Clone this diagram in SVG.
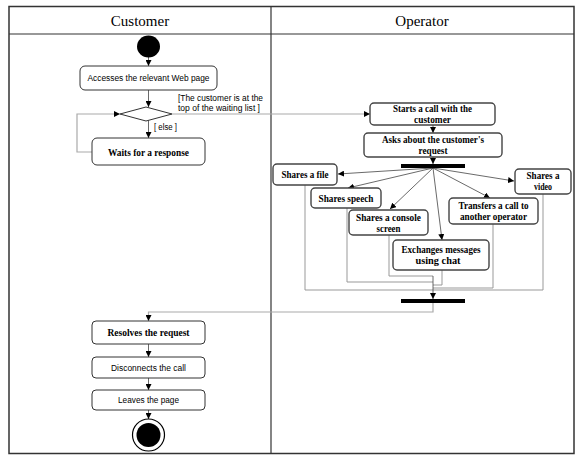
<svg xmlns="http://www.w3.org/2000/svg" width="579" height="459" viewBox="0 0 579 459">
<defs>
<style>
.frame{fill:none;stroke:#333;stroke-width:1.5}
.box{fill:#fff;stroke:#333;stroke-width:1}
.obox{fill:#fff;stroke:#444;stroke-width:1.4}
.bt{font-family:"Liberation Serif",serif;font-weight:bold;font-size:11px;fill:#000;text-anchor:middle}
.st{font-family:"Liberation Sans",sans-serif;font-size:8.5px;fill:#000;text-anchor:middle}
.gt{font-family:"Liberation Sans",sans-serif;font-size:8.5px;fill:#000}
.hd{font-family:"Liberation Serif",serif;font-size:15px;fill:#000;text-anchor:middle}
.dk{fill:none;stroke:#444;stroke-width:0.8}
.gr{fill:none;stroke:#aaa;stroke-width:1.2}
.gj{fill:none;stroke:#999;stroke-width:1}
</style>
<marker id="ah" viewBox="0 0 8 8" refX="8" refY="4" markerWidth="6" markerHeight="6" markerUnits="userSpaceOnUse" orient="auto">
<path d="M0,0 L8,4 L0,8 z" fill="#000"/>
</marker>
</defs>

<g id="swimlanes">
<rect x="9" y="6.5" width="565" height="447" class="frame"/>
<line x1="9" y1="34" x2="574" y2="34" stroke="#333" stroke-width="1.2"/>
<line x1="271" y1="6.5" x2="271" y2="453.5" stroke="#333" stroke-width="1.2"/>
<text x="140" y="26" class="hd">Customer</text>
<text x="422" y="26" class="hd">Operator</text>
</g>

<g id="connectors">
<line x1="148.5" y1="57" x2="148.5" y2="66" class="dk" marker-end="url(#ah)"/>
<line x1="148.5" y1="90" x2="148.5" y2="107" class="dk" marker-end="url(#ah)"/>
<line x1="148.5" y1="120" x2="148.5" y2="138" class="dk" marker-end="url(#ah)"/>
<polyline points="92,152 77,152 77,114 120,114" class="gr" marker-end="url(#ah)"/>
<polyline points="172,114 370,114" class="gr" marker-end="url(#ah)"/>
<line x1="433" y1="125" x2="433" y2="133" class="dk" marker-end="url(#ah)"/>
<line x1="433" y1="157" x2="433" y2="164" class="dk" marker-end="url(#ah)"/>
<line x1="433" y1="168" x2="338" y2="174" class="dk" marker-end="url(#ah)"/>
<line x1="433" y1="168" x2="348" y2="188" class="dk" marker-end="url(#ah)"/>
<line x1="433" y1="168" x2="390" y2="209" class="dk" marker-end="url(#ah)"/>
<line x1="433" y1="168" x2="442" y2="240" class="dk" marker-end="url(#ah)"/>
<line x1="433" y1="168" x2="490" y2="198" class="dk" marker-end="url(#ah)"/>
<line x1="433" y1="168" x2="514" y2="181" class="dk" marker-end="url(#ah)"/>
<polyline points="305,185 305,290 543,290 543,194" class="gj"/>
<polyline points="347,208 347,282 433,282" class="gj"/>
<polyline points="389,235 389,276 433,276" class="gj"/>
<polyline points="442,270 442,285 433,285" class="gj"/>
<polyline points="493,224 493,288 433,288" class="gj"/>
<line x1="433" y1="276" x2="433" y2="299" class="dk" marker-end="url(#ah)"/>
<polyline points="433,303 433,312 148.5,312 148.5,321" class="gr" marker-end="url(#ah)"/>
<line x1="148.5" y1="344" x2="148.5" y2="357" class="dk" marker-end="url(#ah)"/>
<line x1="148.5" y1="378" x2="148.5" y2="390" class="dk" marker-end="url(#ah)"/>
<line x1="148.5" y1="410" x2="148.5" y2="419" class="dk" marker-end="url(#ah)"/>
<text x="178" y="101" class="gt" textLength="85" lengthAdjust="spacingAndGlyphs">[The customer is at the</text>
<text x="178" y="111" class="gt" textLength="82" lengthAdjust="spacingAndGlyphs">top of the waiting list ]</text>
<text x="154" y="130" class="gt" textLength="23" lengthAdjust="spacingAndGlyphs">[ else ]</text>
</g>

<g id="start">
<ellipse cx="148.5" cy="46.5" rx="11.5" ry="11" fill="#000"/>
</g>

<g id="accesses">
<rect x="80" y="66" width="137" height="24" rx="5" class="box"/>
<text x="148.5" y="81" class="st" textLength="122" lengthAdjust="spacingAndGlyphs">Accesses the relevant Web page</text>
</g>

<g id="decision">
<polygon points="120,114 146,107 172,114 146,121" fill="#fff" stroke="#333" stroke-width="1"/>
</g>

<g id="waits">
<rect x="92" y="138" width="113" height="27" rx="5" class="box"/>
<text x="148.5" y="155.5" class="bt" textLength="81" lengthAdjust="spacingAndGlyphs">Waits for a response</text>
</g>

<g id="starts">
<rect x="370" y="103" width="125" height="22" rx="4" class="obox"/>
<text x="432.5" y="112" class="bt" textLength="79" lengthAdjust="spacingAndGlyphs">Starts a call with the</text>
<text x="432.5" y="123" class="bt" textLength="37" lengthAdjust="spacingAndGlyphs">customer</text>
</g>

<g id="asks">
<rect x="364" y="133" width="138" height="24" rx="4" class="obox"/>
<text x="433" y="143" class="bt" textLength="102" lengthAdjust="spacingAndGlyphs">Asks about the customer's</text>
<text x="433" y="154" class="bt" textLength="29" lengthAdjust="spacingAndGlyphs">request</text>
</g>

<g id="fork">
<rect x="401" y="164" width="64" height="4" fill="#000"/>
</g>

<g id="file">
<rect x="273" y="164" width="64" height="21" rx="4" class="obox"/>
<text x="305" y="178" class="bt" textLength="47" lengthAdjust="spacingAndGlyphs">Shares a file</text>
</g>

<g id="speech">
<rect x="311" y="188" width="70" height="20" rx="4" class="obox"/>
<text x="346" y="201.5" class="bt" textLength="55" lengthAdjust="spacingAndGlyphs">Shares speech</text>
</g>

<g id="console">
<rect x="349" y="210" width="79" height="25" rx="4" class="obox"/>
<text x="388.5" y="221" class="bt" textLength="65" lengthAdjust="spacingAndGlyphs">Shares a console</text>
<text x="388.5" y="232" class="bt" textLength="24" lengthAdjust="spacingAndGlyphs">screen</text>
</g>

<g id="chat">
<rect x="393" y="240" width="96" height="30" rx="4" class="obox"/>
<text x="441" y="253" class="bt" textLength="79" lengthAdjust="spacingAndGlyphs">Exchanges messages</text>
<text x="438" y="264" class="bt" textLength="45" lengthAdjust="spacingAndGlyphs">using chat</text>
</g>

<g id="transfers">
<rect x="449" y="198" width="89" height="26" rx="4" class="obox"/>
<text x="493.5" y="209" class="bt" textLength="70" lengthAdjust="spacingAndGlyphs">Transfers a call to</text>
<text x="493.5" y="220" class="bt" textLength="67" lengthAdjust="spacingAndGlyphs">another operator</text>
</g>

<g id="video">
<rect x="515" y="169" width="56" height="25" rx="4" class="obox"/>
<text x="543" y="179" class="bt" textLength="33" lengthAdjust="spacingAndGlyphs">Shares a</text>
<text x="543" y="190" class="bt" textLength="18" lengthAdjust="spacingAndGlyphs">video</text>
</g>

<g id="join">
<rect x="401" y="299" width="64" height="4" fill="#000"/>
</g>

<g id="resolves">
<rect x="92" y="321" width="113" height="23" rx="4" class="box"/>
<text x="148.5" y="336" class="bt" textLength="82" lengthAdjust="spacingAndGlyphs">Resolves the request</text>
</g>

<g id="disconnects">
<rect x="92" y="357" width="113" height="21" rx="4" class="box"/>
<text x="148.5" y="370.5" class="st" textLength="75" lengthAdjust="spacingAndGlyphs">Disconnects the call</text>
</g>

<g id="leaves">
<rect x="92" y="390" width="113" height="20" rx="4" class="box"/>
<text x="148.5" y="403" class="st" textLength="61" lengthAdjust="spacingAndGlyphs">Leaves the page</text>
</g>

<g id="end">
<circle cx="148.5" cy="435" r="16" fill="#fff" stroke="#000" stroke-width="1.2"/>
<circle cx="148.5" cy="435" r="12" fill="#000"/>
</g>
</svg>
